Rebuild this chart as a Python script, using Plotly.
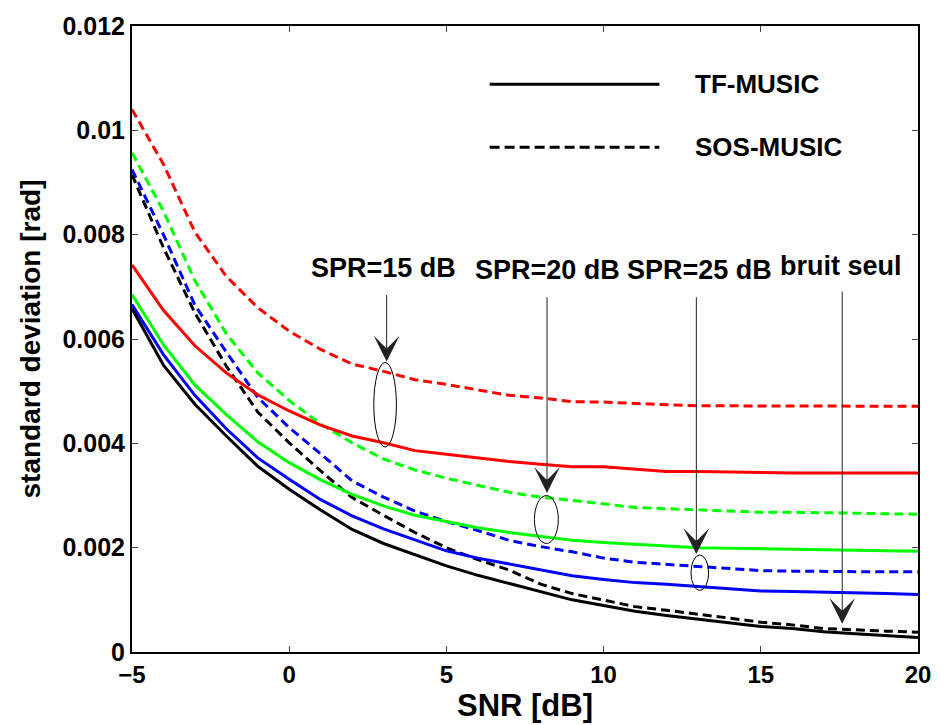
import plotly.graph_objects as go

snr = list(range(-5, 21))

# TF-MUSIC (solid)
tf_noise = [6.58, 5.50, 4.75, 4.14, 3.56, 3.12, 2.72, 2.35, 2.08, 1.86, 1.65, 1.47, 1.31,
            1.16, 1.00, 0.89, 0.78, 0.70, 0.63, 0.56, 0.49, 0.45, 0.39, 0.35, 0.31, 0.28]
tf_spr25 = [6.66, 5.70, 4.92, 4.28, 3.72, 3.31, 2.92, 2.61, 2.36, 2.15, 1.94, 1.80, 1.69,
            1.57, 1.46, 1.39, 1.33, 1.30, 1.26, 1.22, 1.17, 1.16, 1.15, 1.14, 1.12, 1.10]
tf_spr20 = [6.85, 5.89, 5.12, 4.55, 4.03, 3.63, 3.30, 3.02, 2.80, 2.62, 2.50, 2.38, 2.29,
            2.22, 2.14, 2.10, 2.06, 2.03, 2.00, 1.99, 1.97, 1.96, 1.96, 1.94, 1.93, 1.93]
tf_spr15 = [7.42, 6.55, 5.87, 5.35, 4.93, 4.62, 4.35, 4.14, 4.01, 3.86, 3.79, 3.72, 3.65,
            3.60, 3.55, 3.55, 3.50, 3.46, 3.46, 3.45, 3.43, 3.43, 3.43, 3.43, 3.43, 3.43]

# SOS-MUSIC (dashed)
sos_noise = [9.15, 7.75, 6.50, 5.48, 4.60, 4.01, 3.47, 2.96, 2.62, 2.29, 2.00, 1.77, 1.57,
             1.30, 1.12, 1.00, 0.87, 0.80, 0.73, 0.65, 0.57, 0.52, 0.45, 0.42, 0.40, 0.38]
sos_spr25 = [9.25, 8.00, 6.65, 5.75, 4.88, 4.30, 3.80, 3.28, 2.97, 2.70, 2.50, 2.33, 2.14,
             2.02, 1.92, 1.80, 1.72, 1.68, 1.65, 1.60, 1.56, 1.55, 1.54, 1.54, 1.54, 1.54]
sos_spr20 = [9.57, 8.45, 7.12, 6.10, 5.35, 4.82, 4.37, 4.01, 3.70, 3.49, 3.33, 3.20, 3.06,
             2.97, 2.91, 2.84, 2.77, 2.75, 2.72, 2.70, 2.68, 2.68, 2.67, 2.66, 2.65, 2.64]
sos_spr15 = [10.40, 9.35, 8.05, 7.20, 6.60, 6.15, 5.80, 5.52, 5.38, 5.22, 5.13, 5.02, 4.92,
             4.87, 4.80, 4.79, 4.76, 4.74, 4.72, 4.72, 4.71, 4.71, 4.71, 4.71, 4.71, 4.71]

y_ticks = [0, 0.002, 0.004, 0.006, 0.008, 0.01, 0.012]
y_tick_text = ["0", "0.002", "0.004", "0.006", "0.008", "0.01", "0.012"]
x_ticks = [-5, 0, 5, 10, 15, 20]

FONT = "Liberation Sans, Arial, sans-serif"
DASH = "9px,5px"

series = [
    (sos_spr15, "#FF0000", DASH), (sos_spr20, "#00FF00", DASH),
    (sos_spr25, "#0000FF", DASH), (sos_noise, "#000000", DASH),
    (tf_spr15, "#FF0000", "solid"), (tf_spr20, "#00FF00", "solid"),
    (tf_spr25, "#0000FF", "solid"), (tf_noise, "#000000", "solid"),
]

fig = go.Figure()
for vals, col, dash in series:
    fig.add_trace(go.Scatter(x=snr, y=[v * 1e-3 for v in vals], mode="lines",
                             line=dict(color=col, width=3, dash=dash),
                             showlegend=False, hoverinfo="skip"))

# custom legend (as in the original figure)
fig.add_shape(type="line", xref="paper", yref="paper", x0=0.455, x1=0.671, y0=0.907, y1=0.907,
              line=dict(color="black", width=3))
fig.add_shape(type="line", xref="paper", yref="paper", x0=0.455, x1=0.671, y0=0.8065, y1=0.8065,
              line=dict(color="black", width=3, dash="10px,5px"))
fig.add_annotation(xref="paper", yref="paper", x=0.714, y=0.907, text="<b>TF-MUSIC</b>",
                   showarrow=False, xanchor="left", yanchor="middle",
                   font=dict(family=FONT, size=26, color="black"))
fig.add_annotation(xref="paper", yref="paper", x=0.714, y=0.8065, text="<b>SOS-MUSIC</b>",
                   showarrow=False, xanchor="left", yanchor="middle",
                   font=dict(family=FONT, size=26, color="black"))

# labels
labels = [("SPR=15 dB", 3.0, 0.00737), ("SPR=20 dB", 8.2, 0.00732),
          ("SPR=25 dB", 13.05, 0.00732), ("bruit seul", 17.55, 0.0074)]
for txt, lx, ly in labels:
    fig.add_annotation(x=lx, y=ly, text="<b>" + txt + "</b>", showarrow=False,
                       xanchor="center", yanchor="middle",
                       font=dict(family=FONT, size=27, color="black"))

# arrows (tail -> tip)
arrows = [(3.1, 0.00687, 3.1, 0.00557), (8.2, 0.00683, 8.2, 0.00305),
          (12.95, 0.00683, 12.95, 0.00188), (17.59, 0.00694, 17.59, 0.00054)]
for ax_, ay_, tx, ty in arrows:
    fig.add_annotation(x=tx, y=ty, ax=ax_, ay=ay_, xref="x", yref="y", axref="x", ayref="y",
                       text="", showarrow=True, arrowhead=3, arrowsize=4.3, arrowwidth=1,
                       arrowcolor="#222222", standoff=0)

# ellipses
ellipses = [(3.05, 0.00474, 0.36, 0.00081), (8.18, 0.00254, 0.38, 0.00046),
            (13.06, 0.00152, 0.28, 0.00034)]
for cx, cy, rx, ry in ellipses:
    fig.add_shape(type="circle", xref="x", yref="y", x0=cx - rx, x1=cx + rx,
                  y0=cy - ry, y1=cy + ry, line=dict(color="black", width=1))

fig.update_xaxes(range=[-5, 20], tickvals=x_ticks, ticks="inside", ticklen=6,
                 tickcolor="#444", mirror="ticks", showline=True, linecolor="black",
                 linewidth=2, showgrid=False, zeroline=False,
                 tickfont=dict(family=FONT, size=24, color="black", weight="bold"),
                 title=dict(text="<b>SNR [dB]</b>", standoff=4,
                            font=dict(family=FONT, size=31, color="black")))
fig.update_yaxes(range=[0, 0.012], tickvals=y_ticks, ticktext=y_tick_text, ticks="inside",
                 ticklen=6, tickcolor="#444", mirror="ticks", showline=True,
                 linecolor="black", linewidth=2, showgrid=False, zeroline=False,
                 tickfont=dict(family=FONT, size=25, color="black", weight="bold"),
                 title=dict(text="<b>standard deviation [rad]</b>", standoff=14,
                            font=dict(family=FONT, size=28, color="black")))

fig.update_layout(width=943, height=725, margin=dict(l=132, r=20, t=26, b=72),
                  plot_bgcolor="white", paper_bgcolor="white")

fig.write_html("out.html")
